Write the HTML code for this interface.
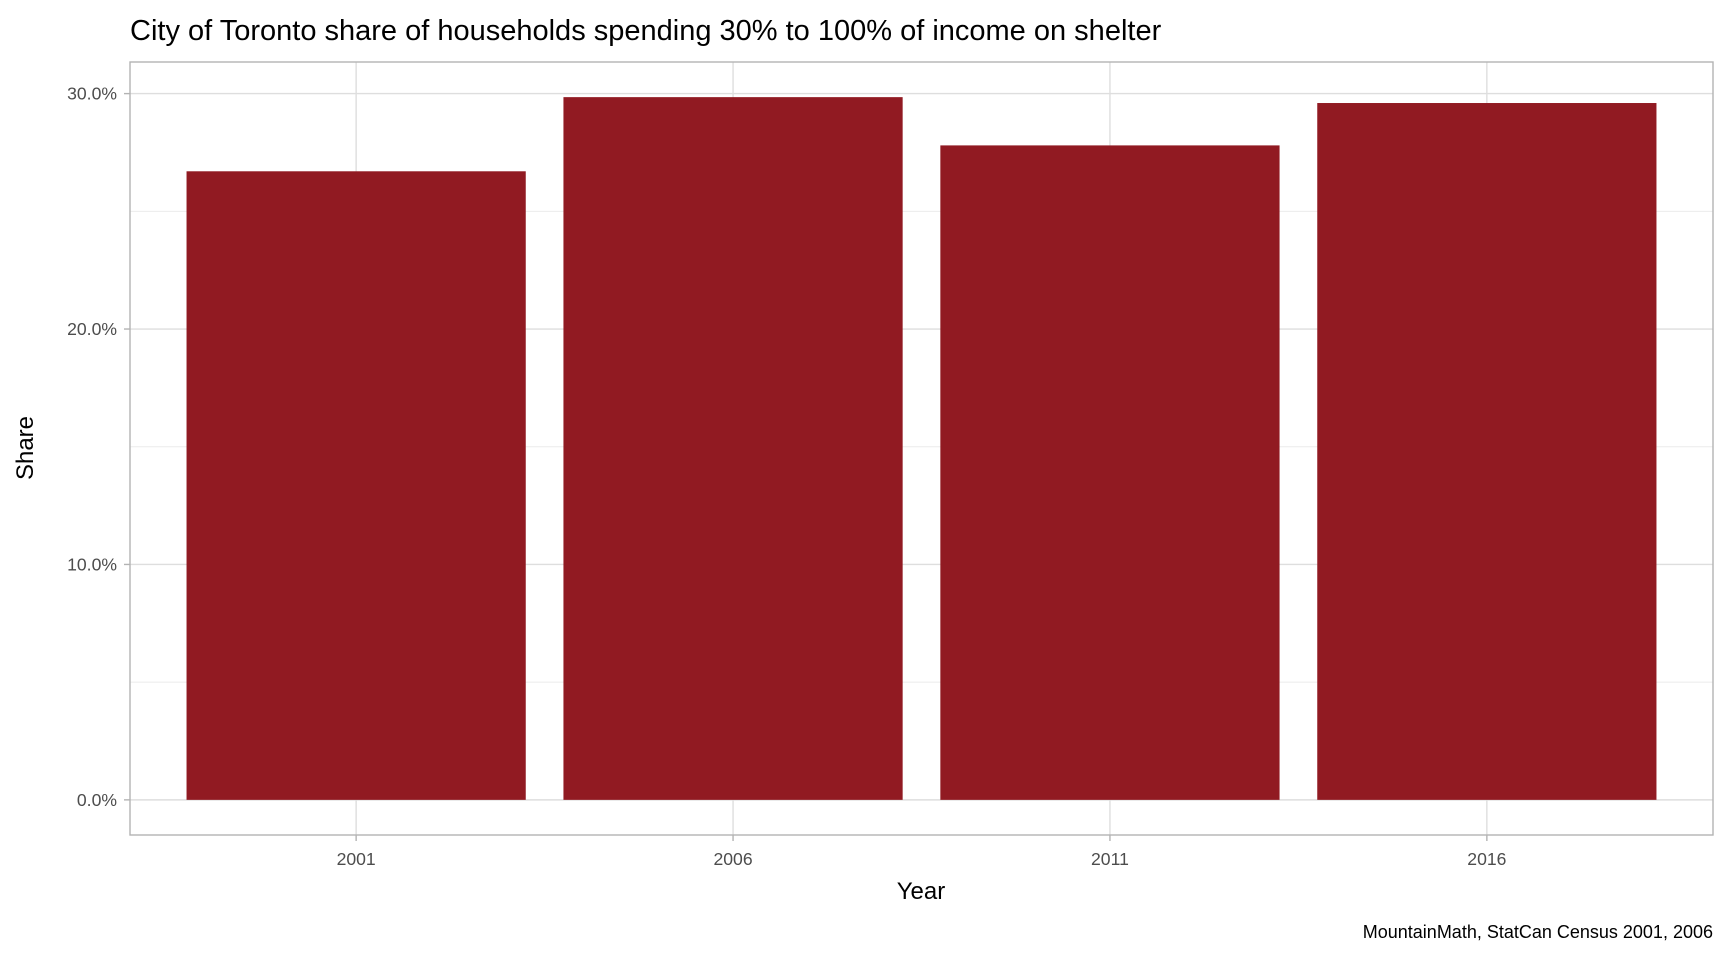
<!DOCTYPE html>
<html><head><meta charset="utf-8"><style>
html,body{margin:0;padding:0;background:#fff;}
svg{display:block;font-family:"Liberation Sans",Arial,sans-serif;}
</style></head><body>
<svg id="chart" width="1728" height="960" viewBox="0 0 1728 960">
<text x="130" y="40" font-size="29" fill="#000">City of Toronto share of households spending 30% to 100% of income on shelter</text>
<g id="grid"></g>
<g id="bars"></g>
<rect x="130" y="62" width="1583" height="773" fill="none" stroke="#b3b3b3" stroke-width="1.4"/>
<g id="yticks"></g>
<g id="xticks"></g>
<text x="921" y="899" font-size="24" text-anchor="middle" fill="#000">Year</text>
<text x="0" y="0" font-size="24" text-anchor="middle" fill="#000" transform="translate(33,448) rotate(-90)">Share</text>
<text x="1713" y="938" font-size="18" text-anchor="end" fill="#000">MountainMath, StatCan Census 2001, 2006</text>
</svg>
<script>
const categories = ["2001","2006","2011","2016"];
const shares = [26.7, 29.85, 27.8, 29.6];
const yTicks = [0, 10, 20, 30];
const yTickLabels = ["0.0%","10.0%","20.0%","30.0%"];
const yMinor = [5, 15, 25];

const NS="http://www.w3.org/2000/svg";
const L=130,R=1713,T=62,B=835;
const maxV=Math.max(...shares);
const yMin=-0.05*maxV, yMax=maxV*1.05;
const y=v=>B-(v-yMin)/(yMax-yMin)*(B-T);
const step=(R-L)/(categories.length-1+1.2);
const x=i=>L+step*(0.6+i);
function mk(tag,attrs,parent){const e=document.createElementNS(NS,tag);for(const k in attrs)e.setAttribute(k,attrs[k]);parent.appendChild(e);return e;}
const grid=document.getElementById('grid'),bars=document.getElementById('bars'),yt=document.getElementById('yticks'),xt=document.getElementById('xticks');
yMinor.forEach(v=>{const l=mk('line',{x1:L,x2:R,y1:y(v),y2:y(v),stroke:'#ebebeb','stroke-width':1},grid);

});
yTicks.forEach((v,i)=>{const l=mk('line',{x1:L,x2:R,y1:y(v),y2:y(v),stroke:'#dedede','stroke-width':1.4},grid);


const tk=mk('line',{x1:L-6,x2:L,y1:y(v),y2:y(v),stroke:'#b3b3b3','stroke-width':1.4},yt);


const t=mk('text',{x:L-13,y:y(v)+6,'font-size':17.6,'text-anchor':'end',fill:'#4d4d4d'},yt);t.textContent=yTickLabels[i];

});
categories.forEach((c,i)=>{const l=mk('line',{x1:x(i),x2:x(i),y1:T,y2:B,stroke:'#dedede','stroke-width':1.4},grid);


const bw=step*0.9;
const b=mk('rect',{x:x(i)-bw/2,y:y(shares[i]),width:bw,height:y(0)-y(shares[i]),fill:'#911a22'},bars);


const tk=mk('line',{x1:x(i),x2:x(i),y1:B,y2:B+6,stroke:'#b3b3b3','stroke-width':1.4},xt);


const t=mk('text',{x:x(i),y:B+30,'font-size':17.6,'text-anchor':'middle',fill:'#4d4d4d'},xt);t.textContent=c;

});
</script>
</body></html>
